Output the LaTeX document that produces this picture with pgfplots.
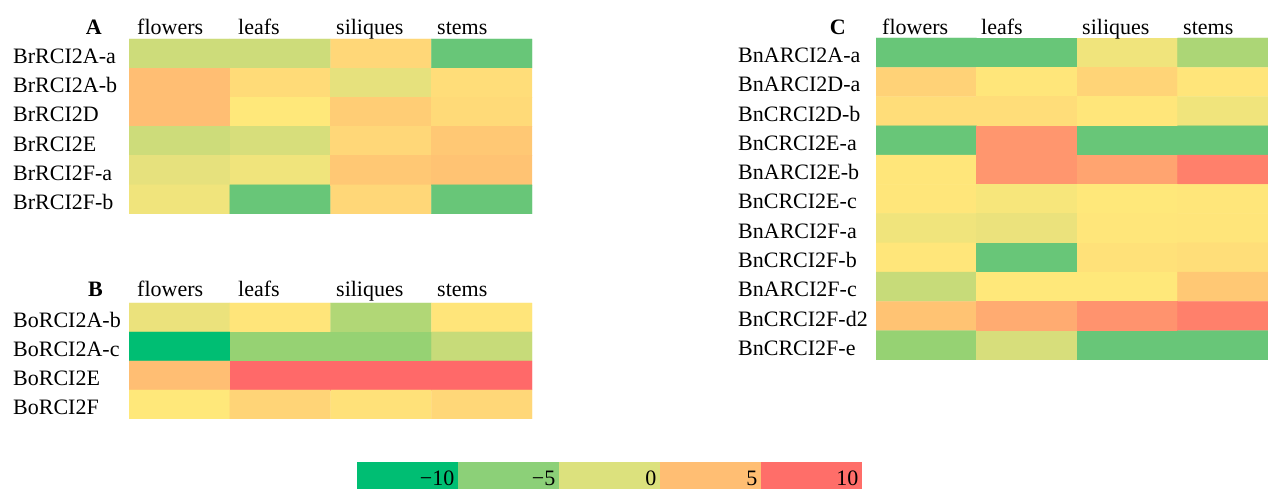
\documentclass[border=0pt]{standalone}
\usepackage{fontspec}
\setmainfont{Liberation Serif}
\usepackage{pgfplots}
\usepackage{pgfplotstable}
\pgfplotsset{compat=1.18}
\pgfplotsset{
  colormap={heat}{rgb255(0cm)=(0,190,115) rgb255(4cm)=(104,198,120) rgb255(6cm)=(150,210,115) rgb255(8cm)=(205,220,122) rgb255(9cm)=(230,225,125) rgb255(10cm)=(255,232,122) rgb255(12cm)=(255,215,120) rgb255(14cm)=(255,195,115) rgb255(15cm)=(255,185,115) rgb255(17cm)=(255,150,110) rgb255(20cm)=(255,105,105)},
  hm/.style={hide axis, scale only axis, y dir=reverse, xmin=-0.5, xmax=3.5, ymin=-0.5,
    colormap name=heat, point meta min=-10, point meta max=10, anchor=north west},
}
\definecolor{cbA}{RGB}{0,190,115}
\definecolor{cbB}{RGB}{140,208,120}
\definecolor{cbC}{RGB}{220,225,125}
\definecolor{cbD}{RGB}{255,190,115}
\definecolor{cbE}{RGB}{255,110,105}

\pgfplotstableread{
x y c
0 0 -2
1 0 -2
2 0 2
3 0 -6
0 1 4.5
1 1 1.5
2 1 -1
3 1 1.3
0 2 4.5
1 2 0
2 2 3
3 2 1.6
0 3 -2
1 3 -1.6
2 3 2
3 3 3.5
0 4 -1
1 4 -0.6
2 4 3.5
3 4 4
0 5 -0.6
1 5 -6
2 5 2
3 5 -6
}\dataA

\pgfplotstableread{
x y c
0 0 -0.8
1 0 0.4
2 0 -3
3 0 0.4
0 1 -10
1 1 -4
2 1 -4
3 1 -2.2
0 2 4.5
1 2 10
2 2 10
3 2 10
0 3 0
1 3 2.3
2 3 0.8
3 3 2
}\dataB

\pgfplotstableread{
x y c
0 0 -6
1 0 -6
2 0 -0.6
3 0 -3.2
0 1 2.5
1 1 0.2
2 1 2.3
3 1 0.4
0 2 1.3
1 2 1.3
2 2 0.2
3 2 -0.6
0 3 -6
1 3 7
2 3 -6
3 3 -6
0 4 0.2
1 4 7
2 4 6.2
3 4 8.5
0 5 0.2
1 5 -0.3
2 5 0
3 5 0.2
0 6 -0.6
1 6 -0.8
2 6 0.2
3 6 0.4
0 7 0.2
1 7 -6
2 7 0.8
3 7 1.2
0 8 -2.2
1 8 0
2 8 0
3 8 3.5
0 9 4
1 9 5.8
2 9 7.2
3 9 8.5
0 10 -4
1 10 -1.6
2 10 -6
3 10 -6
}\dataC

\begin{document}
\begin{tikzpicture}[every node/.style={inner sep=0pt, font=\fontsize{22}{26}\selectfont}]
\path[use as bounding box] (0pt,0pt) rectangle (1268pt,489pt);

% Panel A
\begin{axis}[hm, at={(129pt,450pt)}, width=403pt, height=175pt, ymax=5.5]
\addplot[matrix plot*, mesh/cols=4, point meta=explicit] table[x=x, y=y, meta=c] {\dataA};
\end{axis}
% Panel B
\begin{axis}[hm, at={(129pt,186pt)}, width=403pt, height=116pt, ymax=3.5]
\addplot[matrix plot*, mesh/cols=4, point meta=explicit] table[x=x, y=y, meta=c] {\dataB};
\end{axis}
% Panel C
\begin{axis}[hm, at={(876pt,451pt)}, width=392pt, height=322pt, xmax=3.40, ymax=10.5]
\addplot[matrix plot*, mesh/cols=4, point meta=explicit] table[x=x, y=y, meta=c] {\dataC};
\end{axis}
% Colour bar
\begin{axis}[hide axis, scale only axis, anchor=north west, at={(357pt,27pt)}, width=505pt, height=27pt,
  xmin=0, xmax=5, ymin=0, ymax=1, clip=false]
\addplot[fill=cbA, draw=none] coordinates {(0,0) (1,0) (1,1) (0,1)} --cycle;
\addplot[fill=cbB, draw=none] coordinates {(1,0) (2,0) (2,1) (1,1)} --cycle;
\addplot[fill=cbC, draw=none] coordinates {(2,0) (3,0) (3,1) (2,1)} --cycle;
\addplot[fill=cbD, draw=none] coordinates {(3,0) (4,0) (4,1) (3,1)} --cycle;
\addplot[fill=cbE, draw=none] coordinates {(4,0) (5,0) (5,1) (4,1)} --cycle;
\node[anchor=base east, xshift=-3.5pt] at (axis cs:1,0.12) {−10};
\node[anchor=base east, xshift=-3.5pt] at (axis cs:2,0.12) {−5};
\node[anchor=base east, xshift=-3.5pt] at (axis cs:3,0.12) {0};
\node[anchor=base east, xshift=-3.5pt] at (axis cs:4,0.12) {5};
\node[anchor=base east, xshift=-3.5pt] at (axis cs:5,0.12) {10};
\end{axis}

% Panel letters
\node[anchor=base east] at (102pt,454pt) {\bfseries A};
\node[anchor=base east] at (103pt,192pt) {\bfseries B};
\node[anchor=base east] at (846pt,454pt) {\bfseries C};

% Column headers
\foreach \h/\xa/\xc in {flowers/137/882, leafs/238/981, siliques/336/1082, stems/437/1183} {
  \node[anchor=base west] at (\xa pt,454.5pt) {\h};
  \node[anchor=base west] at (\xa pt,192pt) {\h};
  \node[anchor=base west] at (\xc pt,454.5pt) {\h};
}

% Row labels
\foreach \lab [count=\i from 0] in {BrRCI2A-a,BrRCI2A-b,BrRCI2D,BrRCI2E,BrRCI2F-a,BrRCI2F-b} {
  \pgfmathsetmacro{\yy}{489-(39+175/6*(\i+0.5)+10)}
  \node[anchor=base west] at (13pt,\yy pt) {\lab};
}
\foreach \lab [count=\i from 0] in {BoRCI2A-b,BoRCI2A-c,BoRCI2E,BoRCI2F} {
  \pgfmathsetmacro{\yy}{489-(303+116/4*(\i+0.5)+10)}
  \node[anchor=base west] at (13pt,\yy pt) {\lab};
}
\foreach \lab [count=\i from 0] in {BnARCI2A-a,BnARCI2D-a,BnCRCI2D-b,BnCRCI2E-a,BnARCI2E-b,BnCRCI2E-c,BnARCI2F-a,BnCRCI2F-b,BnARCI2F-c,BnCRCI2F-d2,BnCRCI2F-e} {
  \pgfmathsetmacro{\yy}{489-(38+322/11*(\i+0.5)+10)}
  \node[anchor=base west] at (738pt,\yy pt) {\lab};
}
\end{tikzpicture}
\end{document}
